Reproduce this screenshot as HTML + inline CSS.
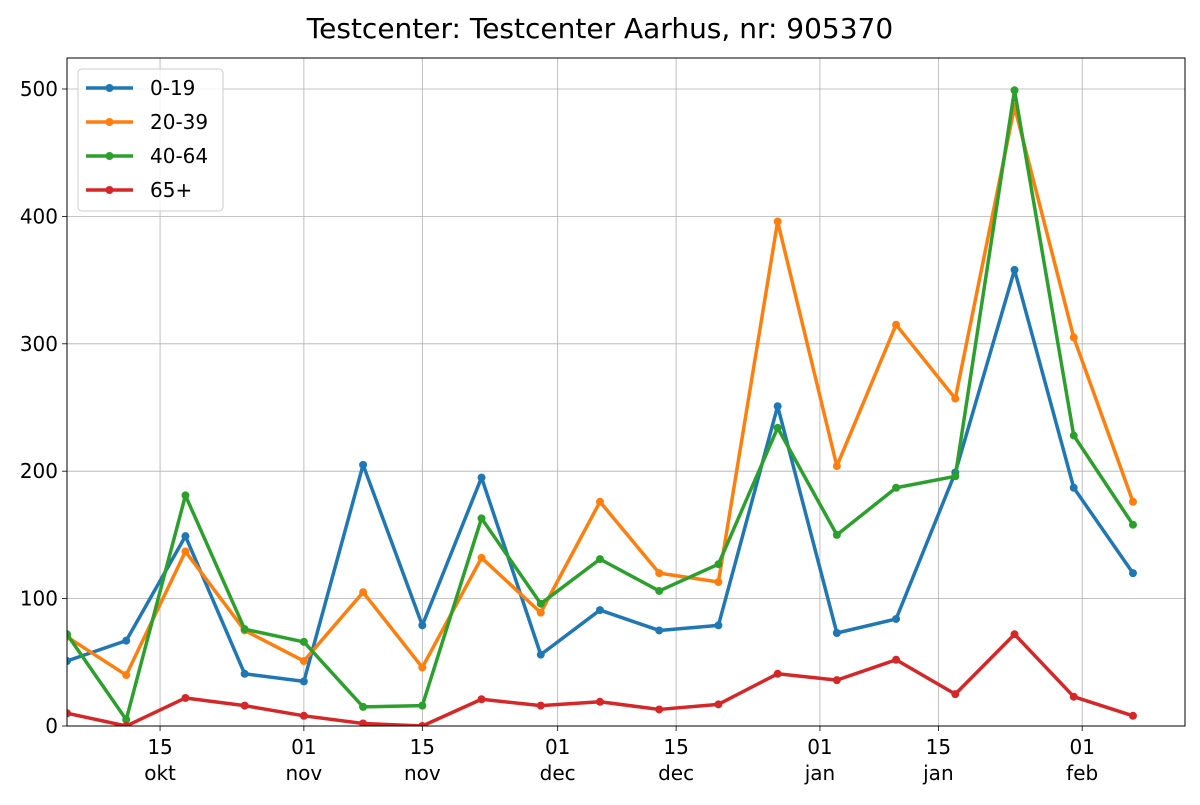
<!DOCTYPE html>
<html><head><meta charset="utf-8"><style>
body{margin:0;background:#fff;font-family:"Liberation Sans","DejaVu Sans",sans-serif}
svg text{font-family:"DejaVu Sans","Liberation Sans",sans-serif}
</style></head><body>
<svg id="c" width="1200" height="800">
<text x="600" y="38" text-anchor="middle" font-size="28" fill="#000">Testcenter: Testcenter Aarhus, nr: 905370</text>
</svg>
<script>
const days = [0,7,14,21,28,35,42,49,56,63,70,77,84,91,98,105,112,119,126];
const s0_19 = [51,67,149,41,35,205,79,195,56,91,75,79,251,73,84,199,358,187,120];
const s20_39 = [70,40,137,75,51,105,46,132,89,176,120,113,396,204,315,257,486,305,176];
const s40_64 = [72,5,181,76,66,15,16,163,96,131,106,127,234,150,187,196,499,228,158];
const s65 = [10,0,22,16,8,2,0,21,16,19,13,17,41,36,52,25,72,23,8];
const seriesNames = ["0-19","20-39","40-64","65+"];
const colors = ["#1f77b4","#ff7f0e","#2ca02c","#d62728"];
const xTickDays = [11,28,42,58,72,89,103,120];
const xTickTop = ["15","01","15","01","15","01","15","01"];
const xTickBottom = ["okt","nov","nov","dec","dec","jan","jan","feb"];
const yTicks = [0,100,200,300,400,500];

const L=67,R=1185,T=58,B=726;
const xS = d => L + d*8.46;
const yS = v => B - v*(726-89)/500;
const svg = document.getElementById('c');
const NS="http://www.w3.org/2000/svg";
function mk(tag, attrs, parent){const e=document.createElementNS(NS,tag);for(const k in attrs)e.setAttribute(k,attrs[k]);(parent||svg).appendChild(e);return e;}

xTickDays.forEach((d,i)=>{
  const x=xS(d);
  const g=mk('line',{x1:x,x2:x,y1:T,y2:B,stroke:'#b0b0b0','stroke-width':0.8});
  
  
  mk('line',{x1:x,x2:x,y1:B,y2:B+5,stroke:'#000','stroke-width':0.8});
  const t=mk('text',{x:x,y:B+28,'text-anchor':'middle','font-size':20});
  t.textContent=xTickTop[i];
  
  
  const t2=mk('text',{x:x,y:B+54,'text-anchor':'middle','font-size':20});
  t2.textContent=xTickBottom[i];
  
  
});
yTicks.forEach(v=>{
  const y=yS(v);
  const g=mk('line',{x1:L,x2:R,y1:y,y2:y,stroke:'#b0b0b0','stroke-width':0.8});
  
  
  mk('line',{x1:L-5,x2:L,y1:y,y2:y,stroke:'#000','stroke-width':0.8});
  const t=mk('text',{x:L-9,y:y+7,'text-anchor':'end','font-size':20});
  t.textContent=v;
  
  
});

const all=[s0_19,s20_39,s40_64,s65];
const clip=mk('clipPath',{id:'pc'});mk('rect',{x:L,y:T,width:R-L,height:B-T},clip);
all.forEach((s,si)=>{
  const g=mk('g',{'clip-path':'url(#pc)'});
  
  
  const pts=s.map((v,i)=>xS(days[i])+','+yS(v)).join(' ');
  mk('polyline',{points:pts,fill:'none',stroke:colors[si],'stroke-width':3.5,'stroke-linejoin':'round'},g);
  s.forEach((v,i)=>{
    const c=mk('circle',{cx:xS(days[i]),cy:yS(v),r:4,fill:colors[si]},g);
    
    
  });
});

mk('rect',{x:L,y:T,width:R-L,height:B-T,fill:'none',stroke:'#000','stroke-width':1});

const lg=mk('g',{});


mk('rect',{x:78,y:69,width:145,height:142,rx:4,fill:'#fff','fill-opacity':0.8,stroke:'#ccc'},lg);
seriesNames.forEach((n,i)=>{
  const y=88+i*34;
  const e=mk('g',{},lg);
  
  
  mk('line',{x1:86,x2:133,y1:y,y2:y,stroke:colors[i],'stroke-width':3.5},e);
  mk('circle',{cx:109.5,cy:y,r:4,fill:colors[i]},e);
  const t=mk('text',{x:150,y:y+7,'font-size':20},e);
  t.textContent=n;
});
</script>
</body></html>
